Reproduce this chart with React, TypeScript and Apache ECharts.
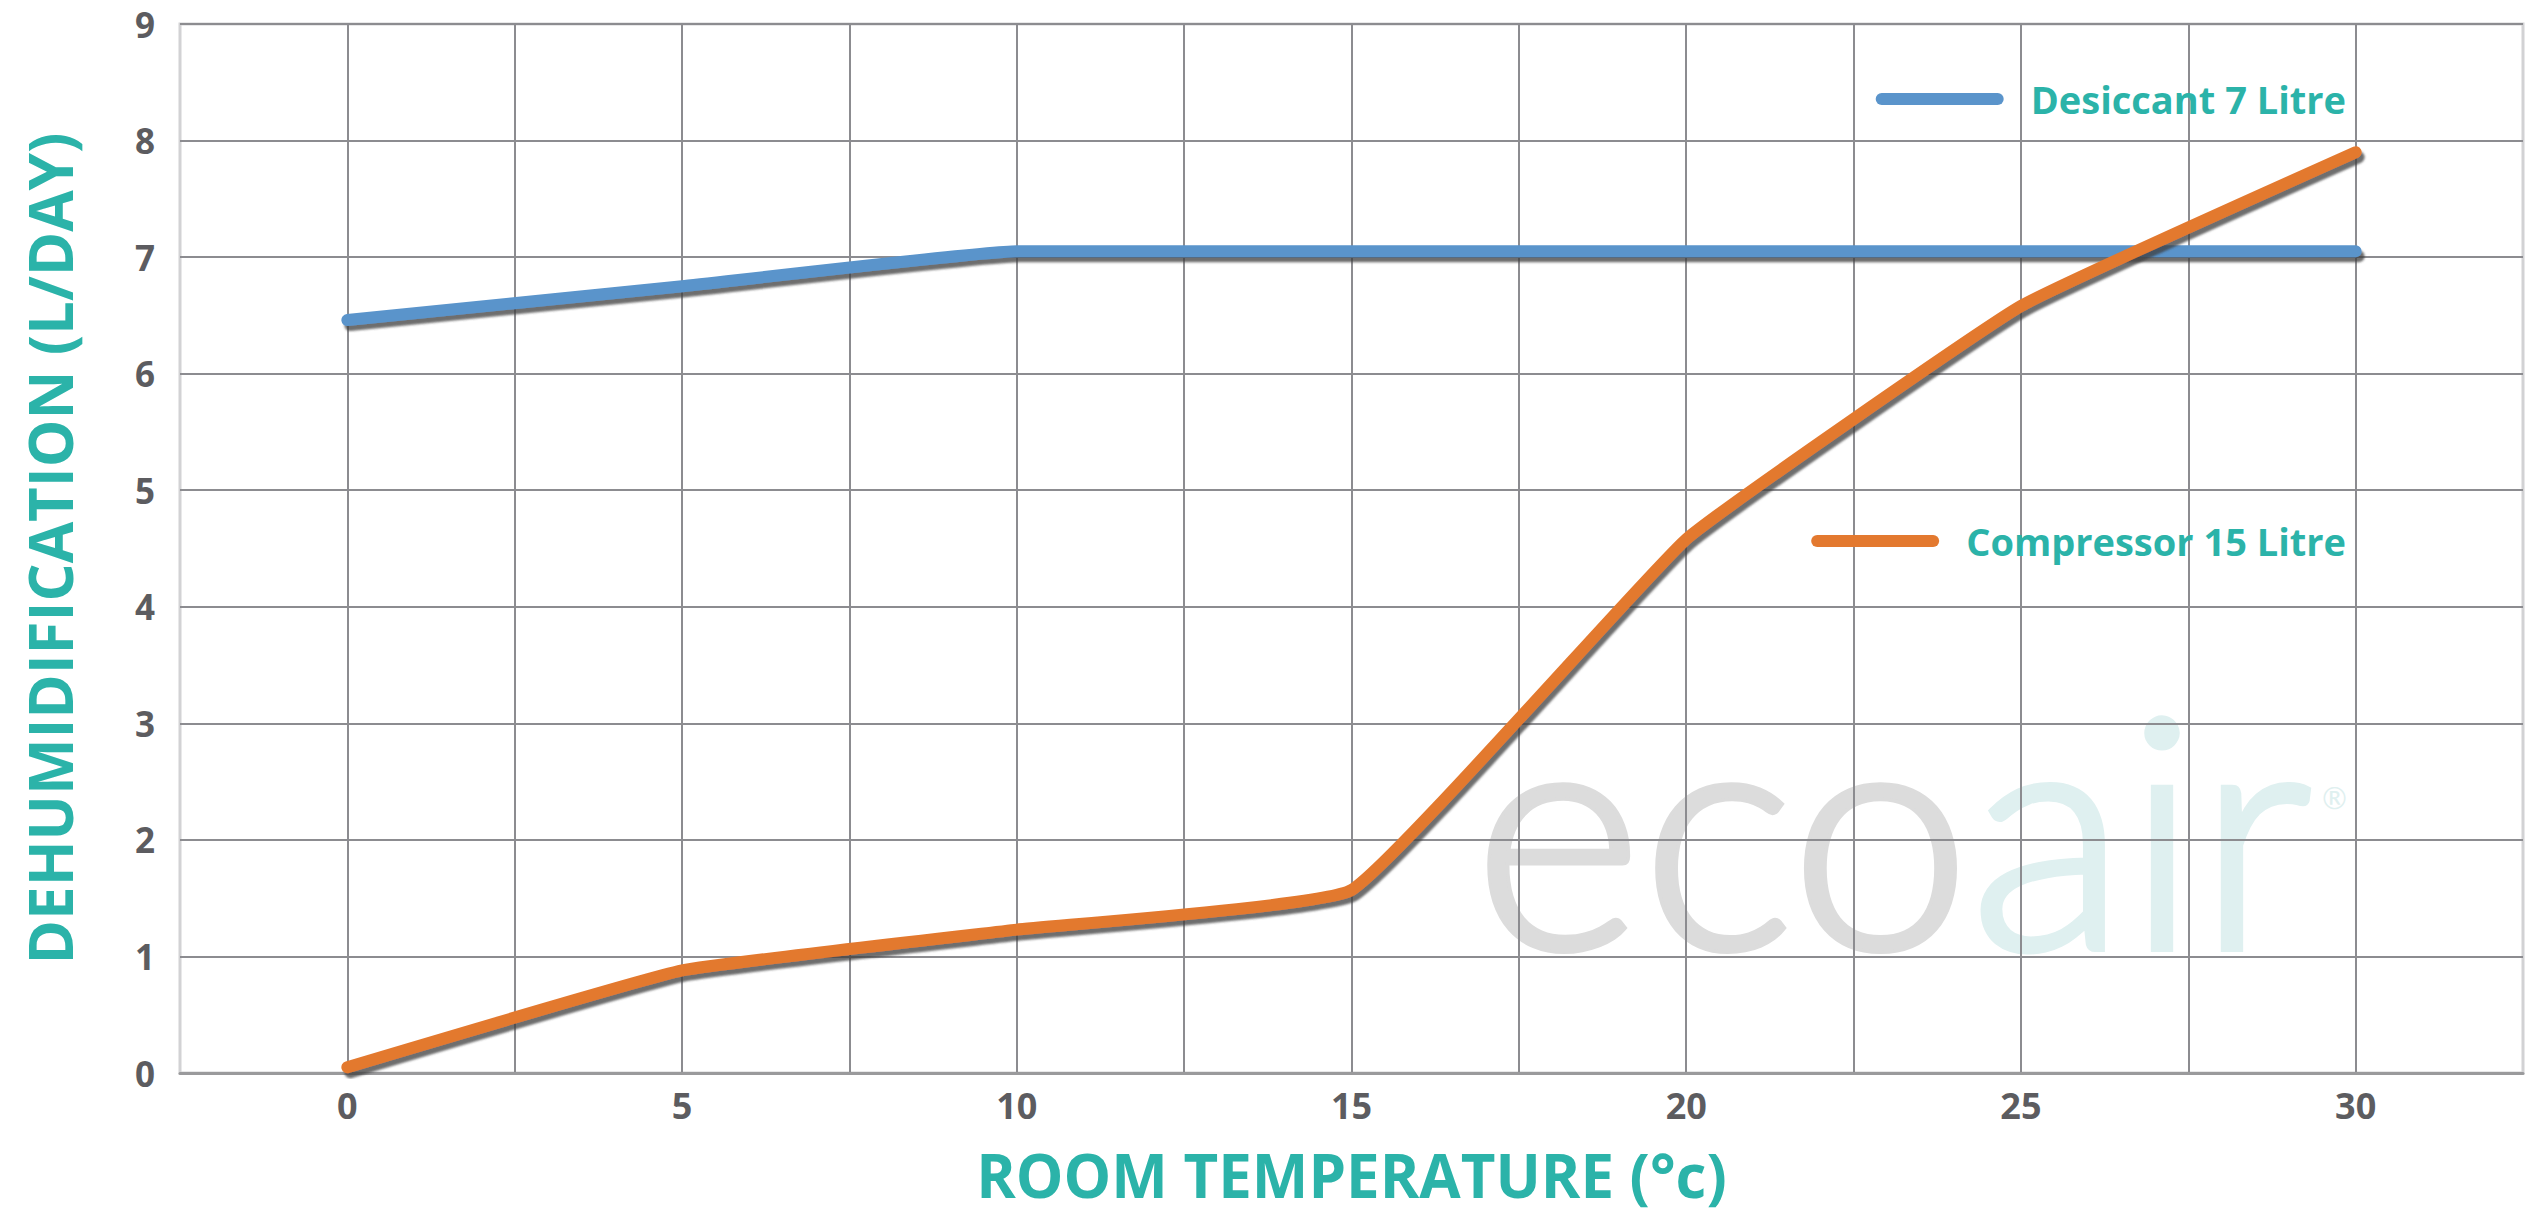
import React, { useEffect, useRef } from "react";
import * as echarts from "echarts";

// ---- data ----
const temperatures = [0, 5, 10, 15, 20, 25, 30];
const desiccant7 = [6.46, 6.75, 7.05, 7.05, 7.05, 7.05, 7.05];
const compressor15 = [0.05, 0.88, 1.23, 1.57, 4.58, 6.58, 7.9];
const xTickLabels = [0, 5, 10, 15, 20, 25, 30];
const yTickLabels = [0, 1, 2, 3, 4, 5, 6, 7, 8, 9];
const seriesNames = ["Desiccant 7 Litre", "Compressor 15 Litre"];
const xTitle = "ROOM TEMPERATURE (°c)";
const yTitle = "DEHUMIDIFICATION (L/DAY)";

const TEAL = "#2bb3a9";
const BLUE = "#5a94cb";
const ORANGE = "#e3792f";
const LABEL = "#5c5c60";
const FONT = "'Open Sans', 'Noto Sans', sans-serif";
const CAPSULE = "path://M6,0 L122,0 A6,6 0 0 1 122,12 L6,12 A6,6 0 0 1 6,0 Z";

export default function App() {
  const ref = useRef<HTMLDivElement>(null);

  useEffect(() => {
    if (!ref.current) return;
    const chart = echarts.init(ref.current, undefined, { renderer: "svg" });

    const lineShadow = {
      shadowColor: "rgba(60,60,60,0.75)",
      shadowBlur: 2,
      shadowOffsetX: 3,
      shadowOffsetY: 5,
    };

    const legendCommon = {
      orient: "horizontal" as const,
      right: 182,
      itemWidth: 128,
      itemHeight: 12,
      icon: CAPSULE,
      selectedMode: false,
      itemStyle: { shadowBlur: 0, shadowColor: "transparent", shadowOffsetX: 0, shadowOffsetY: 0 },
      lineStyle: { shadowBlur: 0, shadowColor: "transparent" },
      textStyle: {
        color: TEAL,
        fontSize: 38,
        fontWeight: "bold",
        fontFamily: FONT,
        padding: [0, 0, 0, 22],
      },
    };

    const wmFont = "Lato, Roboto, sans-serif";

    chart.setOption({
      animation: false,
      backgroundColor: "#ffffff",
      textStyle: { fontFamily: FONT },
      grid: {
        left: 180,
        right: 10,
        top: 24,
        bottom: 149,
        show: true,
        borderColor: "#d2d2d4",
        borderWidth: 3,
        containLabel: false,
      },
      legend: [
        { ...legendCommon, data: [seriesNames[0]], top: 75 },
        { ...legendCommon, data: [seriesNames[1]], top: 517 },
      ],
      graphic: [
        {
          type: "text",
          z: -10,
          silent: true,
          x: 1474,
          y: 824,
          style: {
            text: "{e|eco}{a|air}",
            textAlign: "left",
            textVerticalAlign: "middle",
            rich: {
              e: {
                fill: "#dcdcdc",
                stroke: "#dcdcdc",
                lineWidth: 7,
                fontSize: 322,
                fontWeight: 300,
                fontFamily: wmFont,
              },
              a: {
                fill: "#dff0f0",
                stroke: "#dff0f0",
                lineWidth: 7,
                fontSize: 322,
                fontWeight: 300,
                fontFamily: wmFont,
              },
            },
          },
        },
        {
          type: "text",
          z: -10,
          silent: true,
          x: 2322,
          y: 782,
          style: {
            text: "®",
            fill: "#dff0f0",
            fontSize: 30,
            fontFamily: wmFont,
            textAlign: "left",
            textVerticalAlign: "top",
          },
        },
      ],
      xAxis: {
        type: "value",
        min: -2.5,
        max: 32.5,
        interval: 2.5,
        name: xTitle,
        nameLocation: "middle",
        nameGap: 72,
        nameTextStyle: { color: TEAL, fontSize: 60, fontWeight: "bold", fontFamily: FONT },
        axisLine: { show: true, lineStyle: { color: "#9a9a9c", width: 3 } },
        axisTick: { show: false },
        splitLine: {
          show: true,
          showMinLine: false,
          showMaxLine: false,
          lineStyle: { color: "#8c8c90", width: 2 },
        },
        axisLabel: {
          color: LABEL,
          fontSize: 36,
          fontWeight: "bold",
          fontFamily: FONT,
          margin: 14,
          formatter: (v: number) => (xTickLabels.indexOf(v) >= 0 ? String(v) : ""),
        },
      },
      yAxis: {
        type: "value",
        min: 0,
        max: 9,
        interval: 1,
        name: yTitle,
        nameLocation: "middle",
        nameRotate: 90,
        nameGap: 100,
        nameTextStyle: { color: TEAL, fontSize: 60, fontWeight: "bold", fontFamily: FONT },
        axisLine: { show: false },
        axisTick: { show: false },
        splitLine: { show: true, lineStyle: { color: "#8c8c90", width: 2 } },
        axisLabel: {
          color: LABEL,
          fontSize: 35,
          fontWeight: "bold",
          fontFamily: FONT,
          margin: 25,
          formatter: (v: number) => (yTickLabels.indexOf(v) >= 0 ? String(v) : ""),
        },
      },
      series: [
        {
          name: seriesNames[0],
          type: "line",
          data: temperatures.map((t, i) => [t, desiccant7[i]]),
          showSymbol: false,
          symbol: "none",
          smooth: 0.1,
          color: BLUE,
          itemStyle: { color: BLUE },
          lineStyle: { color: BLUE, width: 12, cap: "round", join: "round", ...lineShadow },
          z: 3,
        },
        {
          name: seriesNames[1],
          type: "line",
          data: temperatures.map((t, i) => [t, compressor15[i]]),
          showSymbol: false,
          symbol: "none",
          smooth: 0.1,
          color: ORANGE,
          itemStyle: { color: ORANGE },
          lineStyle: { color: ORANGE, width: 12, cap: "round", join: "round", ...lineShadow },
          z: 4,
        },
      ],
    });

    return () => chart.dispose();
  }, []);

  return (
    <div
      ref={ref}
      style={{ position: "absolute", left: 0, top: 0, width: 2533, height: 1222, background: "#fff" }}
    />
  );
}
